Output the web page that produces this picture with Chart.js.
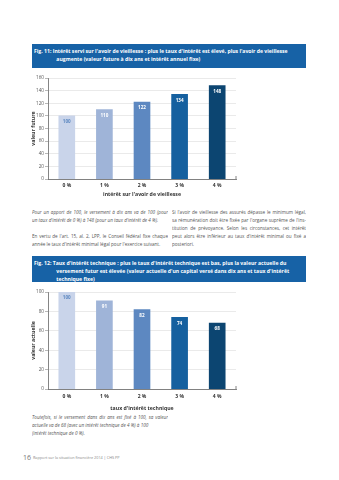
<!DOCTYPE html>
<html>
<head>
<meta charset="utf-8">
<script src="https://cdn.jsdelivr.net/npm/chart.js@4.4.0/dist/chart.umd.min.js"></script>
<style>
  body { margin: 0; background: #fff; width: 339px; height: 480px; position: relative; overflow: hidden; font-family: "Open Sans", sans-serif; }
  .bar { position: absolute; left: 32px; width: 274px; background: #1762a6; color: #fff; font-family: "Open Sans", sans-serif; font-weight: bold; font-size: 5.5px; line-height: 8px; box-sizing: border-box; padding: 3px 2px 0 2px; overflow: hidden; }
  .bar .l { white-space: nowrap; transform: scaleX(0.93); transform-origin: left center; }
  .bar .ind { padding-left: 24px; }
  .txt { position: absolute; color: #555; font-size: 4.6px; line-height: 8px; }
  .txt div { text-align: justify; text-align-last: justify; white-space: nowrap; overflow: hidden; }
  .txt div.last { text-align-last: left; }
  .it { font-style: italic; }
  canvas { position: absolute; }
</style>
</head>
<body>

<div class="bar" style="top:44px;height:24px;">
  <div class="l">Fig. 11: Intérêt servi sur l'avoir de vieillesse : plus le taux d'intérêt est élevé, plus l'avoir de vieillesse</div>
  <div class="l ind">augmente (valeur future à dix ans et intérêt annuel fixe)</div>
</div>

<canvas id="chart1" width="216" height="124" style="left:24px;top:74px;width:216px;height:124px;"></canvas>

<div class="txt it" style="left:32px;top:208px;width:136px;">
  <div>Pour un apport de 100, le versement à dix ans va de 100 (pour</div>
  <div class="last">un taux d'intérêt de 0 %) à 148 (pour un taux d'intérêt de 4 %).</div>
</div>
<div class="txt" style="left:32px;top:232px;width:136px;">
  <div>En vertu de l'art. 15, al. 2, LPP, le Conseil fédéral fixe chaque</div>
  <div class="last">année le taux d'intérêt minimal légal pour l'exercice suivant.</div>
</div>
<div class="txt" style="left:172px;top:208px;width:134px;">
  <div>Si l'avoir de vieillesse des assurés dépasse le minimum légal,</div>
  <div>sa rémunération doit être fixée par l'organe suprême de l'ins-</div>
  <div>titution de prévoyance. Selon les circonstances, cet intérêt</div>
  <div>peut alors être inférieur au taux d'intérêt minimal ou fixé a</div>
  <div class="last">posteriori.</div>
</div>

<div class="bar" style="top:256px;height:26px;">
  <div class="l">Fig. 12: Taux d'intérêt technique : plus le taux d'intérêt technique est bas, plus la valeur actuelle du</div>
  <div class="l ind">versement futur est élevée (valeur actuelle d'un capital versé dans dix ans et taux d'intérêt</div>
  <div class="l ind">technique fixe)</div>
</div>

<canvas id="chart2" width="216" height="126" style="left:24px;top:286px;width:216px;height:126px;"></canvas>

<div class="txt it" style="left:32px;top:413px;width:136px;">
  <div>Toutefois, si le versement dans dix ans est fixé à 100, sa valeur</div>
  <div class="last">actuelle va de 68 (avec un intérêt technique de 4 %) à 100</div>
  <div class="last">(intérêt technique de 0 %).</div>
</div>

<div style="position:absolute;left:23px;top:454px;color:#777;font-size:7px;line-height:8px;">16</div>
<div style="position:absolute;left:33px;top:455px;color:#888;font-size:3.8px;line-height:6px;white-space:nowrap;">Rapport sur la situation financière 2014 | CHS PP</div>

<script>
// données
const categories = ['0 %', '1 %', '2 %', '3 %', '4 %'];
const valeurFuture = [100, 110, 122, 134, 148];
const valeurActuelle = [100, 91, 82, 74, 68];
const ticks1 = [0, 20, 40, 60, 80, 100, 120, 140, 160];
const ticks2 = [0, 20, 40, 60, 80, 100];
const barColors = ['#c9d4ea', '#9fb4d8', '#5d88c1', '#15609f', '#0c4571'];
const labelColors = ['#5d88c1', '#ffffff', '#ffffff', '#ffffff', '#ffffff'];

// étiquettes de valeur + petit trait en bout d'axe
const valueLabels = {
    id: 'valueLabels',
    afterDatasetsDraw(chart) {
        const ctx = chart.ctx;
        const meta = chart.getDatasetMeta(0);
        ctx.save();
        ctx.font = 'bold 4.6px "Open Sans"';
        ctx.textAlign = 'center';
        ctx.textBaseline = 'middle';
        meta.data.forEach((bar, i) => {
            ctx.fillStyle = labelColors[i];
            ctx.fillText(chart.data.datasets[0].data[i], bar.x, bar.y + 6);
        });
        const a = chart.chartArea;
        ctx.strokeStyle = '#666';
        ctx.lineWidth = 0.8;
        ctx.beginPath();
        ctx.moveTo(a.right, a.bottom - 3);
        ctx.lineTo(a.right, a.bottom);
        ctx.stroke();
        ctx.restore();
    }
};

function makeChart(id, values, tickValues, maxY, yTitle, xTitle, padTop, xHeight, labPad, titlePad) {
    return new Chart(document.getElementById(id), {
        type: 'bar',
        data: {
            labels: categories,
            datasets: [{
                data: values,
                backgroundColor: barColors,
                barThickness: 16
            }]
        },
        options: {
            responsive: false,
            animation: false,
            layout: { padding: { top: padTop, right: 4, left: 0, bottom: 0 } },
            plugins: { legend: { display: false }, tooltip: { enabled: false } },
            scales: {
                x: {
                    grid: { display: true, drawOnChartArea: false, drawTicks: false, tickLength: 0 },
                    border: { color: '#666', width: 0.8 },
                    ticks: { color: '#333', padding: labPad, maxRotation: 0, autoSkip: false, font: { family: 'Open Sans', size: 5, weight: 'bold' } },
                    title: { display: true, text: xTitle, color: '#333', padding: { top: titlePad, bottom: 0 }, font: { family: 'Open Sans', size: 5.2, weight: 'bold' } },
                    afterFit: s => { s.height = xHeight; }
                },
                y: {
                    min: 0,
                    max: maxY,
                    afterBuildTicks: s => { s.ticks = tickValues.map(v => ({ value: v })); },
                    grid: { color: '#dcdcdc', lineWidth: 0.6, tickLength: 3, tickColor: '#888' },
                    border: { color: '#666', width: 0.8 },
                    ticks: { color: '#555', padding: 1, font: { family: 'Open Sans', size: 4.6 } },
                    title: { display: true, text: yTitle, color: '#333', padding: { top: 6, bottom: 0 }, font: { family: 'Open Sans', size: 5.2, weight: 'bold' } },
                    afterFit: s => { s.width = 24; }
                }
            }
        },
        plugins: [valueLabels]
    });
}

makeChart('chart1', valeurFuture, ticks1, 160, 'valeur future', "intérêt sur l'avoir de vieillesse", 4, 19, 4, 1);
makeChart('chart2', valeurActuelle, ticks2, 100, 'valeur actuelle', "taux d'intérêt technique", 6, 23, 5, 2);
</script>
</body>
</html>
